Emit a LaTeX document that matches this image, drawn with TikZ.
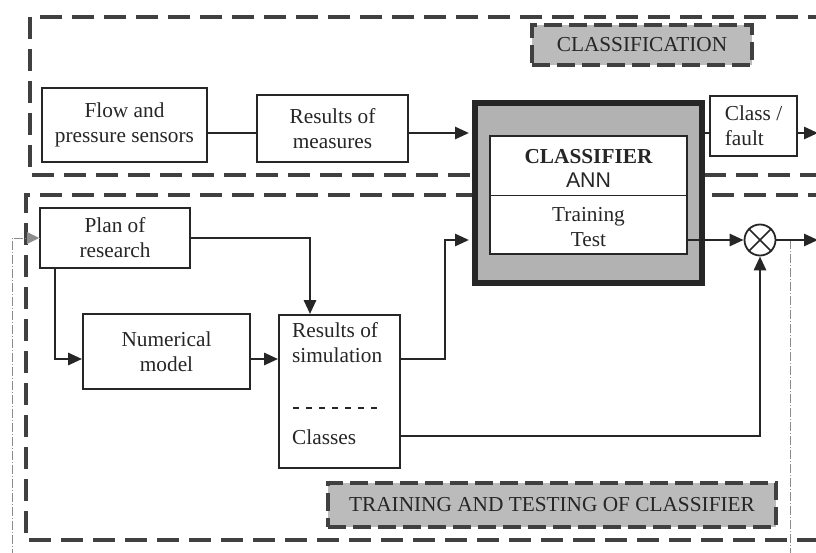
\documentclass[tikz,border=0pt]{standalone}
\usepackage{fontspec}
\setmainfont{Liberation Serif}
\newfontfamily\annfont{Liberation Sans}
\usetikzlibrary{arrows.meta,calc}
\definecolor{ink}{HTML}{262626}
\definecolor{frame}{HTML}{404040}
\definecolor{labelgray}{HTML}{BBBBBB}
\definecolor{clsgray}{HTML}{B2B2B2}
\definecolor{fb}{HTML}{8C8C8C}
\begin{document}
\begin{tikzpicture}[x=1pt,y=-1pt,
  font=\fontsize{21.3}{25}\selectfont,
  box/.style={draw=ink, line width=1.8pt, fill=white, inner sep=0pt, align=center, text=ink},
  frameline/.style={draw=frame, line width=3.4pt, dash pattern=on 22pt off 10pt},
  labelbox/.style={draw=frame, fill=labelgray, line width=3.8pt, dash pattern=on 18pt off 7pt, inner sep=0pt, text=ink},
  conn/.style={draw=ink, line width=2.8pt, -{Triangle[length=14pt,width=12pt]}},
  link/.style={draw=ink, line width=2.8pt},
  fbline/.style={draw=fb, line width=0.9pt, dash pattern=on 9pt off 2pt on 1pt off 2pt},
  txt/.style={text=ink, inner sep=0pt, align=center}
]
\useasboundingbox (0,0) rectangle (816,553);
\clip (0,0) rectangle (816,553);
\fill[white] (0,0) rectangle (816,553);

% dashed frames
\draw[frameline] (830,17) -- (30,17) -- (30,175) -- (830,175);
\draw[frameline] (830,195) -- (26,195) -- (26,540) -- (830,540);

% frame labels
\node[labelbox, minimum width=220pt, minimum height=40pt] (lblcls) at (642,45) {CLASSIFICATION};
\node[labelbox, minimum width=448pt, minimum height=44pt] (lbltrain) at (552,505) {TRAINING AND TESTING OF CLASSIFIER};

% boxes
\node[box, minimum width=165pt, minimum height=74pt] (flow) at (124.5,125) {Flow and\\pressure sensors};
\node[box, minimum width=151pt, minimum height=67pt] (meas) at (332.5,128.5) {Results of\\measures};
\node[draw=ink, fill=clsgray, line width=6pt, minimum width=227pt, minimum height=180pt, inner sep=0pt] (cls) at (588.5,193) {};
\node[box, minimum width=197pt, minimum height=118pt] (inner) at (588.5,195) {};
\coordinate (ysplit) at (0,195.5);
\draw[ink, line width=1.6pt] (inner.west |- ysplit) -- (inner.east |- ysplit);
\node[txt, font=\fontsize{21.3}{25}\selectfont\bfseries] (tcls) at (588.5,157) {CLASSIFIER};
\node[txt, font=\annfont\fontsize{21.3}{25}\selectfont] (tann) at (588.5,180) {ANN};
\node[txt] (ttrain) at (588.5,227) {Training\\Test};
\node[box, align=left, minimum width=87pt, minimum height=60pt] (cf) at (753.5,126) {Class /\\fault};
\node[draw=ink, line width=1.8pt, circle, minimum size=31pt, inner sep=0pt, fill=white] (circ) at (760,240) {};
\draw[ink, line width=1.6pt] (circ.45) -- (circ.225) (circ.135) -- (circ.315);
\node[box, minimum width=150pt, minimum height=60pt] (plan) at (115,238) {Plan of\\research};
\node[box, minimum width=167pt, minimum height=75pt] (num) at (166.5,351.5) {Numerical\\model};
\node[box, minimum width=121pt, minimum height=153pt] (sim) at (339.5,391.5) {};
\node[txt, align=left, anchor=north west] (tsim) at (292,322) {Results of\\simulation};
\coordinate (dl1) at (293,408);
\coordinate (dl2) at (382,408);
\draw[ink, line width=1.1pt, dash pattern=on 6pt off 7pt] (dl1) -- (dl2);
\node[txt, anchor=west] (tclasses) at (292,437) {Classes};

% connectors
\coordinate (ya) at (0,133);
\draw[link] (flow.east |- ya) -- (meas.west |- ya);
\draw[conn, shorten >=3pt] (meas.east |- ya) -- (cls.west |- ya);
\draw[link] (cls.east |- ya) -- (cf.west |- ya);
\coordinate (outA) at (818,133);
\draw[conn] (cf.east |- ya) -- (outA);

% feedback (dash-dot)
\coordinate (fbR) at (790,240);
\coordinate (fbRb) at (790,570);
\coordinate (fbLb) at (12,570);
\draw[fbline] (fbR) -- (fbRb) -- (fbLb) |- (plan.west);
\fill[fb] (plan.west) -- ++(-12,-6) -- ++(0,12) -- cycle;

\draw[conn] (inner.east |- circ) -- (circ.west);
\coordinate (outB) at (818,240);
\draw[conn] (circ.east) -- (outB);

\coordinate (yc) at (0,436);
\draw[conn] (sim.east |- yc) -| (circ.south);

\coordinate (ysim) at (0,359);
\coordinate (jx) at (445,240);
\draw[conn, shorten >=3pt] (sim.east |- ysim) -| (jx) -- (cls.west |- jx);
\draw[conn] (num.east |- ysim) -- (sim.west |- ysim);

\coordinate (xp) at (310,0);
\draw[conn] (plan.east) -| (sim.north -| xp);
\coordinate (xq) at (55,0);
\draw[conn] (plan.south -| xq) |- (num.west |- ysim);
\end{tikzpicture}
\end{document}
